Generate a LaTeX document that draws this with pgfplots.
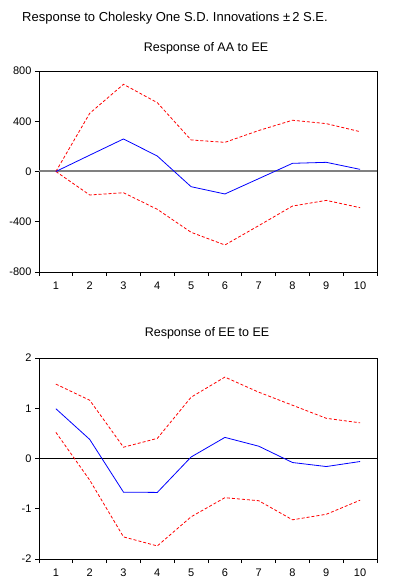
\documentclass[border=0pt]{standalone}
\usepackage{fontspec}
\setmainfont{Liberation Sans}
\usepackage{pgfplots}
\pgfplotsset{compat=1.18}
\definecolor{zgray}{RGB}{128,128,128}
\begin{document}
\begin{tikzpicture}
\useasboundingbox (0pt,0pt) rectangle (395pt,578pt);
\pgfplotsset{
  irf/.style={
    scale only axis, width=338pt, height=201pt,
    xmin=0.5, xmax=10.5,
    axis line style={line width=0.9pt},
    tick align=outside, major tick length=4pt,
    ytick pos=left, xtick pos=bottom,
    xtick={0.5,1.5,...,10.5}, xticklabels={},
    extra x ticks={1,2,...,10},
    extra x tick labels={1,2,3,4,5,6,7,8,9,10},
    extra x tick style={major tick length=0pt},
    tick style={black, line width=0.8pt},
    ticklabel style={font=\fontsize{11}{13}\selectfont},
    xticklabel style={yshift=-6pt},
    /pgf/number format/assume math mode=true,
    clip=false,
  },
  blu/.style={blue, line width=0.8pt, mark=none},
  rd/.style={red, line width=0.8pt, dash pattern=on 3pt off 2pt, mark=none},
}
\node at (175pt,560pt) {\fontsize{13}{15}\selectfont Response to Cholesky One S.D. Innovations ±\,2 S.E.};
\node at (206pt,530pt) {\fontsize{12.5}{14}\selectfont Response of AA to EE};
\node at (207pt,245pt) {\fontsize{12.5}{14}\selectfont Response of EE to EE};
\begin{axis}[irf, at={(39pt,306pt)}, anchor=south west,
  ymin=-800, ymax=800, ytick={-800,-400,0,400,800}]
\addplot[zgray, line width=2pt, forget plot] coordinates {(0.5,0) (10.5,0)};
\addplot[rd] coordinates {(1,0) (2,463) (3,694) (4,548) (5,251) (6,232) (7,326) (8,408) (9,381) (10,317)};
\addplot[rd] coordinates {(1,0) (2,-187) (3,-169) (4,-301) (5,-484) (6,-585) (7,-431) (8,-275) (9,-230) (10,-288)};
\addplot[blu] coordinates {(1,0) (2,130) (3,259) (4,123) (5,-121) (6,-179) (7,-57) (8,65) (9,73) (10,17)};
\end{axis}
\begin{axis}[irf, at={(39pt,19pt)}, anchor=south west,
  ymin=-2, ymax=2, ytick={-2,-1,0,1,2}]
\addplot[black, line width=0.8pt, forget plot] coordinates {(0.5,0) (10.5,0)};
\addplot[rd] coordinates {(1,1.48) (2,1.16) (3,0.225) (4,0.40) (5,1.22) (6,1.62) (7,1.32) (8,1.06) (9,0.80) (10,0.71)};
\addplot[rd] coordinates {(1,0.52) (2,-0.43) (3,-1.56) (4,-1.74) (5,-1.16) (6,-0.78) (7,-0.84) (8,-1.22) (9,-1.11) (10,-0.83)};
\addplot[blu] coordinates {(1,0.99) (2,0.38) (3,-0.67) (4,-0.675) (5,0.03) (6,0.42) (7,0.245) (8,-0.08) (9,-0.16) (10,-0.06)};
\end{axis}
\end{tikzpicture}
\end{document}
